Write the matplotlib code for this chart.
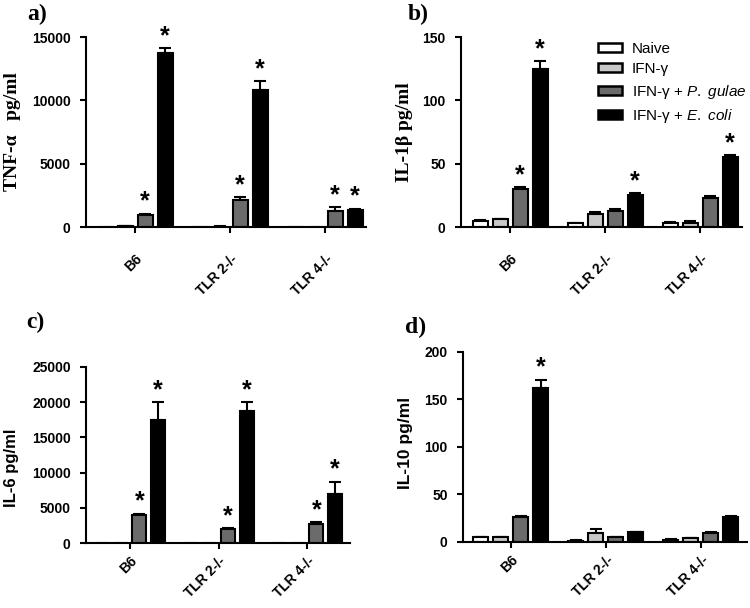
import numpy as np
import matplotlib.pyplot as plt
import matplotlib.transforms as mtransforms
from matplotlib.patches import Patch

# Cytokine levels per mouse strain and stimulation

plt.rcParams['mathtext.fontset'] = 'custom'
plt.rcParams['mathtext.rm'] = 'Liberation Sans'
plt.rcParams['mathtext.it'] = 'Liberation Sans:italic'

strains = ['B6', 'TLR 2-/-', 'TLR 4-/-']
treatments = ['Naive', 'IFN-γ', 'IFN-γ + $\\it{P.\\ gulae}$', 'IFN-γ + $\\it{E.\\ coli}$']
colors = ['white', '#c8c8c8', '#6b6b6b', 'black']

# rows = strains, columns = treatments
tnf = [[0, 50, 920, 13750], [0, 40, 2100, 10800], [0, 0, 1300, 1370]]
tnf_err = [[0, 10, 130, 350], [0, 10, 250, 700], [0, 0, 250, 80]]
tnf_star = [[0, 0, 1, 1], [0, 0, 1, 1], [0, 0, 1, 1]]

il1b = [[4.5, 6, 30, 125], [3, 10.5, 13, 25.5], [3.5, 3.5, 23, 55.5]]
il1b_err = [[1, 0.5, 1.5, 6], [0.5, 1, 1, 1.5], [0.5, 1, 1.5, 1.5]]
il1b_star = [[0, 0, 1, 1], [0, 0, 0, 1], [0, 0, 0, 1]]

il6 = [[0, 0, 4000, 17500], [0, 0, 2000, 18700], [0, 0, 2700, 7000]]
il6_err = [[0, 0, 150, 2500], [0, 0, 100, 1300], [0, 0, 250, 1700]]
il6_star = [[0, 0, 1, 1], [0, 0, 1, 1], [0, 0, 1, 1]]

il10 = [[5, 5, 26, 162], [1.5, 9, 5, 10.5], [2.5, 4, 9, 26.5]]
il10_err = [[0.5, 0.5, 1, 9], [0.3, 5, 0.5, 0.5], [0.3, 0.5, 1, 1]]
il10_star = [[0, 0, 0, 1], [0, 0, 0, 0], [0, 0, 0, 0]]

sans = 'Liberation Sans'
serif = 'Liberation Serif'

fig = plt.figure(figsize=(7.5, 6.08), dpi=100)

panels = [
    # rect, data, err, stars, ymax, ystep, ylabel, font, size, label xy, xlim, xpad, letter, letter pos
    ([0.1147, 0.6266, 0.3733, 0.3125], tnf, tnf_err, tnf_star, 15000, 5000,
     'TNF-α   pg/ml', serif, 14, (-0.232, 0.5), (-2.45, 11.55), 14, 'a)', (0.037, 0.993)),
    ([0.6147, 0.6266, 0.3747, 0.3125], il1b, il1b_err, il1b_star, 150, 50,
     'IL-1β pg/ml', serif, 14, (-0.171, 0.5), (-2.45, 11.6), 14, 'b)', (0.544, 0.993)),
    ([0.1147, 0.1069, 0.352, 0.2895], il6, il6_err, il6_star, 25000, 5000,
     'IL-6 pg/ml', sans, 12, (-0.255, 0.43), (-2.36, 11.8), 4, 'c)', (0.035, 0.487)),
    ([0.6173, 0.1086, 0.3787, 0.3125], il10, il10_err, il10_star, 200, 50,
     'IL-10 pg/ml', sans, 12.5, (-0.176, 0.52), (-2.4, 11.8), 4, 'd)', (0.54, 0.479)),
]

group_gap = 4.75
width = 0.75
centers = np.arange(len(strains)) * group_gap
shift = mtransforms.ScaledTranslation(-0.05, 0, fig.dpi_scale_trans)

for (rect, vals, errs, stars, ymax, ystep, ylabel, lfont, lsize, lxy, xlim, xpad,
     letter, lpos) in panels:
    ax = fig.add_axes(rect)
    vals = np.array(vals, dtype=float)
    errs = np.array(errs, dtype=float)
    for j in range(len(treatments)):
        x = centers + (j - 1.5)
        h = vals[:, j]
        e = errs[:, j]
        ax.bar(x, h, width, color=colors[j], edgecolor='black', linewidth=1.5, zorder=2)
        shown = h > 0
        ax.errorbar(x[shown], h[shown], yerr=[np.zeros(shown.sum()), e[shown]],
                    fmt='none', ecolor='black', elinewidth=1.5, capsize=4,
                    capthick=1.5, zorder=1)
        for i in range(len(strains)):
            if stars[i][j]:
                ax.text(x[i], h[i] + e[i], '*', ha='center', va='bottom',
                        fontsize=18, fontweight='bold', family=sans)
    ax.set_xlim(*xlim)
    ax.set_ylim(0, ymax)
    ax.set_yticks(np.arange(0, ymax + 1, ystep))
    ax.set_xticks(centers)
    ax.set_xticklabels(strains, rotation=45, ha='right', va='top', rotation_mode='anchor')
    for lab in ax.get_xticklabels():
        lab.set_transform(lab.get_transform() + shift)
    for lab in ax.get_xticklabels() + ax.get_yticklabels():
        lab.set_family(sans)
        lab.set_fontweight('bold')
        lab.set_fontsize(10)
    ax.tick_params(direction='out', width=1.5, length=4)
    ax.tick_params(axis='y', pad=7)
    ax.tick_params(axis='x', pad=xpad)
    for s in ['top', 'right']:
        ax.spines[s].set_visible(False)
    for s in ['left', 'bottom']:
        ax.spines[s].set_linewidth(1.5)
    ax.set_ylabel(ylabel, family=lfont, fontweight='bold', fontsize=lsize)
    ax.yaxis.set_label_coords(*lxy)
    fig.text(lpos[0], lpos[1], letter, family=serif, fontweight='bold', fontsize=17,
             ha='left', va='top')
    if letter == 'b)':
        handles = [Patch(facecolor=c, edgecolor='black', linewidth=1.8) for c in colors]
        ax.legend(handles, treatments, loc='upper left', bbox_to_anchor=(0.4875, 0.975),
                  borderaxespad=0, borderpad=0, frameon=False,
                  prop={'family': sans, 'size': 11},
                  handlelength=1.55, handleheight=0.55, handletextpad=0.65,
                  labelspacing=0.42)

fig.savefig('out.png', dpi=100)
